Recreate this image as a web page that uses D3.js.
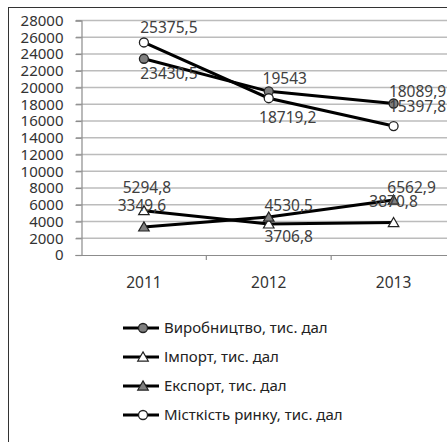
<!DOCTYPE html>
<html>
<head>
<meta charset="utf-8">
<script src="https://cdn.jsdelivr.net/npm/d3@7"></script>
<style>
  html, body { margin: 0; padding: 0; background: #fff; }
  svg { display: block; }
  text { font-family: "Noto Sans", "DejaVu Sans", sans-serif; }
</style>
</head>
<body>
<div id="chart"></div>
<script>
// ---- data ----
const years = ["2011", "2012", "2013"];
const production = [23430.5, 19543, 18089.9];
const imports = [5294.8, 3706.8, 3870.8];
const exports_ = [3349.6, 4530.5, 6562.9];
const market = [25375.5, 18719.2, 15397.8];
const yTicks = [0, 2000, 4000, 6000, 8000, 10000, 12000, 14000, 16000, 18000, 20000, 22000, 24000, 26000, 28000];
const seriesNames = ["Виробництво, тис. дал", "Імпорт, тис. дал", "Експорт, тис. дал", "Місткість ринку, тис. дал"];

// ---- presentation ----
const W = 447, H = 442;
const series = [
  { name: seriesNames[0], values: production, marker: "circle", fill: "#7f7f7f",
    off: [[25, 15], [16, -13], [24, -12]] },
  { name: seriesNames[1], values: imports, marker: "triangle", fill: "#ffffff",
    off: [[3, -23], [20, 12], [0, -21]] },
  { name: seriesNames[2], values: exports_, marker: "triangle", fill: "#7f7f7f",
    off: [[-2, -22], [20, -12], [18, -13]] },
  { name: seriesNames[3], values: market, marker: "circle", fill: "#ffffff",
    off: [[25, -15], [19, 19], [24, -20]] }
];

const svg = d3.select("#chart").append("svg").attr("width", W).attr("height", H);

// frame
svg.append("rect").attr("x", 8.5).attr("y", 7.5).attr("width", 480).attr("height", 480)
  .attr("fill", "none").attr("stroke", "#333").attr("stroke-width", 1);

const x = d3.scaleBand().domain(years).range([81.5, 456]);
const y = d3.scaleLinear().domain([0, 28000]).range([255, 20.5]);

// gridlines
svg.append("g").selectAll("line").data(yTicks.filter(d => d > 0)).join("line")
  .attr("x1", 76).attr("x2", 456)
  .attr("y1", d => y(d)).attr("y2", d => y(d))
  .attr("stroke", "#bcbcbc").attr("stroke-width", 1.4);

// y axis
const yAxis = svg.append("g").attr("transform", "translate(81.5,0)")
  .call(d3.axisLeft(y).tickValues(yTicks).tickSize(6).tickPadding(12).tickFormat(d3.format("d")));
yAxis.select(".domain").attr("stroke", "#8c8c8c").attr("stroke-width", 1.2);
yAxis.selectAll(".tick line").attr("stroke", "#8c8c8c").attr("stroke-width", 1.2);
yAxis.selectAll("text").attr("font-size", "15px").attr("fill", "#333");

// x axis
const xAxis = svg.append("g").attr("transform", `translate(0,${y(0)})`)
  .call(d3.axisBottom(x).tickSize(0).tickPadding(22));
xAxis.select(".domain").attr("stroke", "#8c8c8c").attr("stroke-width", 1.2);
xAxis.selectAll("text").attr("font-size", "15.5px").attr("fill", "#333");
// category boundary ticks
svg.append("g").selectAll("line").data(years.slice(1)).join("line")
  .attr("x1", d => x(d)).attr("x2", d => x(d))
  .attr("y1", y(0)).attr("y2", y(0) + 5)
  .attr("stroke", "#8c8c8c").attr("stroke-width", 1.2);

const cx = d => x(d) + x.bandwidth() / 2;
const line = d3.line().x((d, i) => cx(years[i])).y(d => y(d));

const fmt = v => (Number.isInteger(v) ? String(v) : v.toFixed(1)).replace(".", ",");

function drawMarker(g, type, fill, px, py, s) {
  if (type === "circle") {
    g.append("circle").attr("cx", px).attr("cy", py).attr("r", 4.5 * s)
      .attr("fill", fill).attr("stroke", "#222").attr("stroke-width", 1.3);
  } else {
    const sym = d3.symbol().type(d3.symbolTriangle).size(48 * s * s);
    g.append("path").attr("d", sym()).attr("transform", `translate(${px},${py + 1})`)
      .attr("fill", fill).attr("stroke", "#222").attr("stroke-width", 1.2);
  }
}

// lines
series.forEach(s => {
  svg.append("path").datum(s.values).attr("d", line)
    .attr("fill", "none").attr("stroke", "#000").attr("stroke-width", 3);
});
// markers
series.forEach(s => {
  const g = svg.append("g");
  s.values.forEach((v, i) => drawMarker(g, s.marker, s.fill, cx(years[i]), y(v), 1));
});
// labels
series.forEach(s => {
  svg.append("g").selectAll("text").data(s.values).join("text")
    .attr("x", (v, i) => cx(years[i]) + s.off[i][0])
    .attr("y", (v, i) => y(v) + s.off[i][1])
    .attr("dy", "0.36em")
    .attr("text-anchor", "middle")
    .attr("font-size", "15.5px").attr("fill", "#404040")
    .text(v => fmt(v));
});

// legend
const legendY = [328, 357, 386, 415];
series.forEach((s, i) => {
  const g = svg.append("g").attr("transform", `translate(0,${legendY[i]})`);
  g.append("line").attr("x1", 123).attr("x2", 159).attr("y1", 0).attr("y2", 0)
    .attr("stroke", "#000").attr("stroke-width", 3);
  drawMarker(g, s.marker, s.fill, 143, 0, 1);
  g.append("text").attr("x", 164).attr("y", 0).attr("dy", "0.36em")
    .attr("font-size", "15px").attr("fill", "#222").text(s.name);
});
</script>
</body>
</html>
